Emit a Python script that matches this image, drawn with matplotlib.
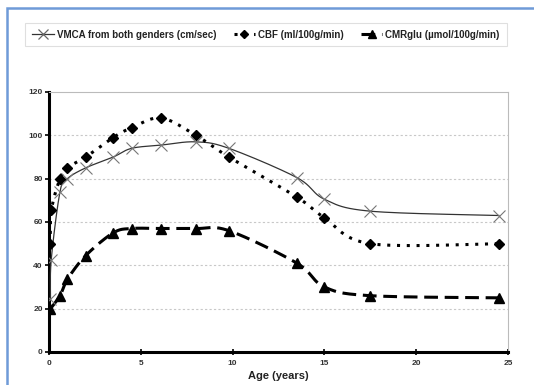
import numpy as np
import matplotlib
matplotlib.use("Agg")
import matplotlib.pyplot as plt
from matplotlib.patches import Rectangle

# ---- data ----
vmca_x = [0.08, 0.12, 0.6, 1.0, 2.0, 3.5, 4.5, 6.1, 8.0, 9.8, 13.5, 15.0, 17.5, 24.5]
vmca_y = [24.5, 42.5, 74, 80, 85, 90, 94, 95.5, 97, 94, 80.5, 70.5, 65, 63]
cbf_x = [0.07, 0.13, 0.6, 1.0, 2.0, 3.5, 4.5, 6.1, 8.0, 9.8, 13.5, 15.0, 17.5, 24.5]
cbf_y = [50, 65.5, 80, 85, 90, 99, 103.5, 108, 100, 90, 71.5, 62, 50, 50]
cmr_x = [0.08, 0.6, 1.0, 2.0, 3.5, 4.5, 6.1, 8.0, 9.8, 13.5, 15.0, 17.5, 24.5]
cmr_y = [20, 26, 33.5, 44.5, 55, 57, 57, 57, 56, 41, 30, 26, 25]
labels = ["VMCA from both genders (cm/sec)", "CBF (ml/100g/min)", "CMRglu (\u00b5mol/100g/min)"]
xticks = [0, 5, 10, 15, 20, 25]
yticks = [0, 20, 40, 60, 80, 100, 120]
xlabel = "Age (years)"


def smooth(x, y, n=24):
    p = np.column_stack([x, y]).astype(float)
    p = np.vstack([p[0], p, p[-1]])
    out = []
    t = np.linspace(0, 1, n)[:, None]
    for i in range(1, len(p) - 2):
        p0, p1, p2, p3 = p[i - 1], p[i], p[i + 1], p[i + 2]
        c1 = p1 + (p2 - p0) / 6.0
        c2 = p2 - (p3 - p1) / 6.0
        seg = ((1 - t) ** 3) * p1 + 3 * ((1 - t) ** 2) * t * c1 + 3 * (1 - t) * t ** 2 * c2 + t ** 3 * p2
        out.append(seg if i == 1 else seg[1:])
    s = np.vstack(out)
    return s[:, 0], s[:, 1]


plt.rcParams['font.family'] = ['Liberation Sans', 'DejaVu Sans']
fig = plt.figure(figsize=(5.34, 3.85), dpi=100)
fig.patch.set_facecolor('white')

# blue outer frame
fig.patches.append(Rectangle((7 / 534, -0.05), 1.1, (385 - 8) / 385 + 0.05, transform=fig.transFigure,
                             fill=False, edgecolor='#6f9bd8', linewidth=1.8))

ax = fig.add_axes([49 / 534, 33 / 385, 459 / 534, 260 / 385])

sx, sy = smooth(vmca_x, vmca_y)
ax.plot(sx, sy, color='#333333', lw=0.9, zorder=3)
ax.plot(vmca_x, vmca_y, ls='none', marker='x', ms=8.5, mew=0.8, color='#777777', zorder=4)

sx, sy = smooth(cbf_x, cbf_y)
ax.plot(sx, sy, color='black', lw=2.2, ls=(0, (1, 2.2)), dash_capstyle='butt', zorder=3)
ax.plot(cbf_x, cbf_y, ls='none', marker='D', ms=5.5, color='black', zorder=4)

sx, sy = smooth(cmr_x, cmr_y)
ax.plot(sx, sy, color='black', lw=2.2, ls=(0, (4.5, 2.2)), dash_capstyle='butt', zorder=3)
ax.plot(cmr_x, cmr_y, ls='none', marker='^', ms=6.5, color='black', zorder=4)

ax.set_xlim(0, 25)
ax.set_ylim(0, 120)
ax.set_xticks(xticks)
ax.set_yticks(yticks)
ax.set_xticklabels([str(v) for v in xticks], fontsize=6, fontweight='bold', color='#333333')
ax.set_yticklabels([str(v) for v in yticks], fontsize=6, fontweight='bold', color='#333333')
ax.tick_params(axis='y', direction='out', length=3, width=1.2, pad=1.5)
ax.tick_params(axis='x', direction='inout', length=4, width=1.2, pad=4)
for s in ['left', 'bottom']:
    ax.spines[s].set_linewidth(2.2)
    ax.spines[s].set_color('black')
for s in ['top', 'right']:
    ax.spines[s].set_linewidth(0.8)
    ax.spines[s].set_color('#bbbbbb')
for v in yticks[1:-1]:
    ax.axhline(v, color='#c8c8c8', lw=0.8, ls=(0, (2, 2)), zorder=1)
ax.set_xlabel(xlabel, fontsize=8, fontweight='bold', color='#222222', labelpad=2.5)

# legend handles
h1, = ax.plot([], [], color='#333333', lw=0.9, marker='x', ms=6.5, mew=0.9, mec='#666666')
h2, = ax.plot([], [], color='black', lw=2.2, ls=(0, (1, 2.2)), marker='D', ms=4.5)
h3, = ax.plot([], [], color='black', lw=2.2, ls=(0, (4.5, 2.2)), marker='^', ms=5.5)
leg = fig.legend([h1, h2, h3], labels, loc='center',
                 bbox_to_anchor=(25 / 534, (385 - 46) / 385, 482 / 534, 23 / 385),
                 ncol=3, frameon=True, fancybox=False, handlelength=2.2, handletextpad=0.3,
                 columnspacing=1.8, borderpad=0.7,
                 prop={'size': 7, 'weight': 'bold'})
leg.get_frame().set_edgecolor('#d8d8d8')
leg.get_frame().set_linewidth(0.8)
for t in leg.get_texts():
    t.set_color('#222222')

fig.savefig('out.png', dpi=100)
